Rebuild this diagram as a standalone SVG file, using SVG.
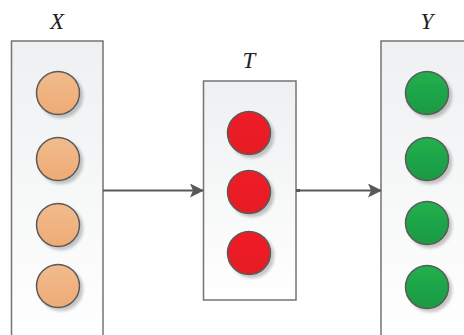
<svg xmlns="http://www.w3.org/2000/svg" width="464" height="335" viewBox="0 0 464 335">
  <defs>
    <linearGradient id="panelFill" x1="0" y1="0" x2="0" y2="1">
      <stop offset="0" stop-color="#eef0f1"/>
      <stop offset="1" stop-color="#ffffff"/>
    </linearGradient>
    <linearGradient id="orangeFill" x1="0" y1="0" x2="0" y2="1">
      <stop offset="0" stop-color="#f2bb8d"/>
      <stop offset="1" stop-color="#eeab75"/>
    </linearGradient>
    <linearGradient id="redFill" x1="0" y1="0" x2="0" y2="1">
      <stop offset="0" stop-color="#ef1c26"/>
      <stop offset="1" stop-color="#e51b24"/>
    </linearGradient>
    <linearGradient id="greenFill" x1="0" y1="0" x2="0" y2="1">
      <stop offset="0" stop-color="#22b04e"/>
      <stop offset="1" stop-color="#1a9a42"/>
    </linearGradient>
    <filter id="shade" x="-30%" y="-30%" width="170%" height="170%">
      <feGaussianBlur in="SourceAlpha" stdDeviation="1.6"/>
      <feOffset dx="3" dy="3" result="b"/>
      <feComponentTransfer><feFuncA type="linear" slope="0.22"/></feComponentTransfer>
      <feMerge><feMergeNode/><feMergeNode in="SourceGraphic"/></feMerge>
    </filter>
    <marker id="arrow" markerWidth="14" markerHeight="14" refX="13" refY="7" orient="auto" markerUnits="userSpaceOnUse">
      <path d="M0,0 L14,7 L0,14 L3,7 Z" fill="#595959"/>
    </marker>
  </defs>
  <style>
    .panel { fill: url(#panelFill); stroke: #747474; stroke-width: 1.5; }
    .node { stroke: #5a5a5a; stroke-width: 1.5; filter: url(#shade); }
    .orange { fill: url(#orangeFill); }
    .red { fill: url(#redFill); }
    .green { fill: url(#greenFill); }
    .label { font-family: "Liberation Serif", "Times New Roman", serif; font-style: italic; font-size: 23px; fill: #222; text-anchor: middle; }
    .link { stroke: #595959; stroke-width: 2; fill: none; }
  </style>

  <rect width="464" height="335" fill="#ffffff"/>

  <g id="layer-x">
    <rect class="panel" x="11.5" y="41" width="91.5" height="300"/>
    <text class="label" x="57" y="29">X</text>
    <circle class="node orange" cx="58" cy="93" r="21.5"/>
    <circle class="node orange" cx="58" cy="159" r="21.5"/>
    <circle class="node orange" cx="58" cy="225" r="21.5"/>
    <circle class="node orange" cx="58" cy="286" r="21.5"/>
  </g>

  <g id="layer-t">
    <rect class="panel" x="203.5" y="81" width="92.5" height="219"/>
    <text class="label" x="249" y="68">T</text>
    <circle class="node red" cx="249" cy="133" r="21.5"/>
    <circle class="node red" cx="249" cy="192" r="21.5"/>
    <circle class="node red" cx="249" cy="253" r="21.5"/>
  </g>

  <g id="layer-y">
    <rect class="panel" x="381" y="41" width="100" height="300"/>
    <text class="label" x="427" y="29">Y</text>
    <circle class="node green" cx="427" cy="93" r="21.5"/>
    <circle class="node green" cx="427" cy="159" r="21.5"/>
    <circle class="node green" cx="427" cy="223" r="21.5"/>
    <circle class="node green" cx="427" cy="287" r="21.5"/>
  </g>

  <g id="connectors">
    <line class="link" x1="103" y1="190.5" x2="203" y2="190.5" marker-end="url(#arrow)"/>
    <rect x="296" y="189" width="4" height="3" fill="#595959"/>
    <line class="link" x1="296" y1="190.5" x2="381" y2="190.5" marker-end="url(#arrow)"/>
  </g>
</svg>
